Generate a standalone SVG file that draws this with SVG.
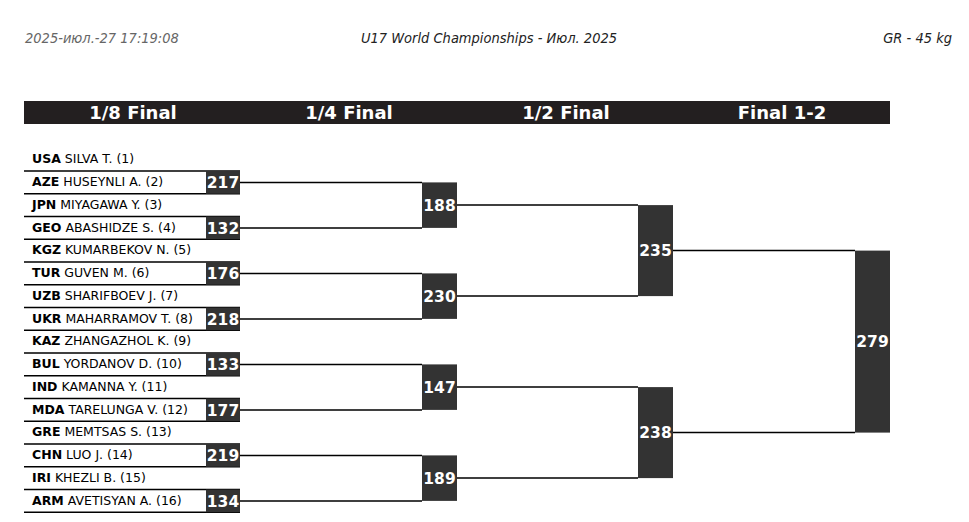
<svg xmlns="http://www.w3.org/2000/svg" width="969" height="522" viewBox="0 0 969 522">
<style>
.top{font-family:"DejaVu Sans Condensed","DejaVu Sans",sans-serif;font-style:italic;font-size:14.5px}
.hd{font-family:"DejaVu Sans",sans-serif;font-weight:bold;font-size:18px;fill:#fff;text-anchor:middle}
.nm{font-family:"DejaVu Sans",sans-serif;font-size:12.5px;fill:#000}
.nm tspan.c{font-weight:bold}
.bx{fill:#333}
.num{font-family:"DejaVu Sans",sans-serif;font-weight:bold;font-size:15.5px;fill:#fff;text-anchor:middle}
.ln{stroke:#000;stroke-width:1.5;fill:none}
</style>
<rect width="969" height="522" fill="#fff"/>
<text class="top" x="25" y="43" fill="#666">2025-июл.-27 17:19:08</text>
<text class="top" x="489" y="43" fill="#222" text-anchor="middle">U17 World Championships - Июл. 2025</text>
<text class="top" x="952" y="43" fill="#222" text-anchor="end">GR - 45 kg</text>
<g id="header">
<rect x="24" y="101" width="866" height="23" fill="#231f20"/>
<text class="hd" x="133" y="118.5">1/8 Final</text>
<text class="hd" x="349" y="118.5">1/4 Final</text>
<text class="hd" x="566" y="118.5">1/2 Final</text>
<text class="hd" x="782" y="118.5">Final 1-2</text>
</g>
<g id="names">
<text class="nm" x="32" y="163.3"><tspan class="c">USA</tspan> SILVA T. (1)</text>
<text class="nm" x="32" y="186"><tspan class="c">AZE</tspan> HUSEYNLI A. (2)</text>
<text class="nm" x="32" y="208.8"><tspan class="c">JPN</tspan> MIYAGAWA Y. (3)</text>
<text class="nm" x="32" y="231.5"><tspan class="c">GEO</tspan> ABASHIDZE S. (4)</text>
<text class="nm" x="32" y="254.3"><tspan class="c">KGZ</tspan> KUMARBEKOV N. (5)</text>
<text class="nm" x="32" y="277"><tspan class="c">TUR</tspan> GUVEN M. (6)</text>
<text class="nm" x="32" y="299.8"><tspan class="c">UZB</tspan> SHARIFBOEV J. (7)</text>
<text class="nm" x="32" y="322.5"><tspan class="c">UKR</tspan> MAHARRAMOV T. (8)</text>
<text class="nm" x="32" y="345.3"><tspan class="c">KAZ</tspan> ZHANGAZHOL K. (9)</text>
<text class="nm" x="32" y="368"><tspan class="c">BUL</tspan> YORDANOV D. (10)</text>
<text class="nm" x="32" y="390.8"><tspan class="c">IND</tspan> KAMANNA Y. (11)</text>
<text class="nm" x="32" y="413.5"><tspan class="c">MDA</tspan> TARELUNGA V. (12)</text>
<text class="nm" x="32" y="436.3"><tspan class="c">GRE</tspan> MEMTSAS S. (13)</text>
<text class="nm" x="32" y="459"><tspan class="c">CHN</tspan> LUO J. (14)</text>
<text class="nm" x="32" y="481.8"><tspan class="c">IRI</tspan> KHEZLI B. (15)</text>
<text class="nm" x="32" y="504.5"><tspan class="c">ARM</tspan> AVETISYAN A. (16)</text>
</g>
<g id="connectors" class="ln">
<path d="M24 171H240M24 193.75H240M24 216.5H240M24 239.25H240M24 262H240M24 284.75H240M24 307.5H240M24 330.25H240M24 353H240M24 375.75H240M24 398.5H240M24 421.25H240M24 444H240M24 466.75H240M24 489.5H240M24 512.25H240"/>
<path d="M240 182.4H422M240 227.9H422M240 273.4H422M240 318.9H422M240 364.4H422M240 409.9H422M240 455.4H422M240 500.9H422"/>
<path d="M457 205.1H638M457 296.1H638M457 387.1H638M457 478.1H638"/>
<path d="M673 250.6H855M673 432.6H855"/>
</g>
<g id="r16">
<rect class="bx" x="206" y="171" width="34" height="22.75"/><text class="num" x="223" y="188">217</text>
<rect class="bx" x="206" y="216.5" width="34" height="22.75"/><text class="num" x="223" y="233.5">132</text>
<rect class="bx" x="206" y="262" width="34" height="22.75"/><text class="num" x="223" y="279">176</text>
<rect class="bx" x="206" y="307.5" width="34" height="22.75"/><text class="num" x="223" y="324.5">218</text>
<rect class="bx" x="206" y="353" width="34" height="22.75"/><text class="num" x="223" y="370">133</text>
<rect class="bx" x="206" y="398.5" width="34" height="22.75"/><text class="num" x="223" y="415.5">177</text>
<rect class="bx" x="206" y="444" width="34" height="22.75"/><text class="num" x="223" y="461">219</text>
<rect class="bx" x="206" y="489.5" width="34" height="22.75"/><text class="num" x="223" y="506.5">134</text>
</g>
<g id="qf">
<rect class="bx" x="422" y="182.4" width="35" height="45.5"/><text class="num" x="439.5" y="210.5">188</text>
<rect class="bx" x="422" y="273.4" width="35" height="45.5"/><text class="num" x="439.5" y="301.5">230</text>
<rect class="bx" x="422" y="364.4" width="35" height="45.5"/><text class="num" x="439.5" y="392.5">147</text>
<rect class="bx" x="422" y="455.4" width="35" height="45.5"/><text class="num" x="439.5" y="483.5">189</text>
</g>
<g id="sf">
<rect class="bx" x="638" y="205.1" width="35" height="91"/><text class="num" x="655.5" y="256">235</text>
<rect class="bx" x="638" y="387.1" width="35" height="91"/><text class="num" x="655.5" y="438">238</text>
</g>
<g id="final">
<rect class="bx" x="855" y="250.6" width="35" height="182"/><text class="num" x="872.5" y="347">279</text>
</g>
</svg>
